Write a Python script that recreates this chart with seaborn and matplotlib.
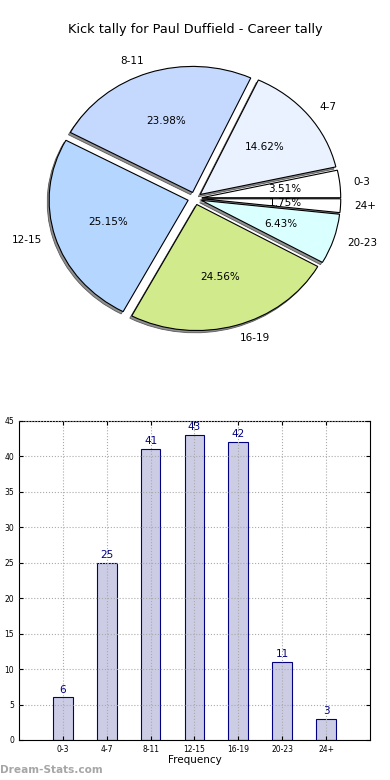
import matplotlib
matplotlib.use("Agg")
import matplotlib.pyplot as plt
import seaborn as sns
import pandas as pd

# data
categories = ["0-3", "4-7", "8-11", "12-15", "16-19", "20-23", "24+"]
counts = [6, 25, 41, 43, 42, 11, 3]
pie_colors = ["#ffffff", "#eaf1ff", "#c5d9ff", "#b5d6ff", "#d0ea8c", "#d9ffff", "#ffffff"]
title = "Kick tally for Paul Duffield - Career tally"

df = pd.DataFrame({"range": categories, "count": counts})

plt.rcParams["font.family"] = ["DejaVu Sans"]
fig = plt.figure(figsize=(3.9, 7.8), dpi=100)

# pie
ax1 = fig.add_axes([0.054, 0.5436, 0.891, 0.404])
ax1.pie(df["count"], labels=df["range"], colors=pie_colors, explode=[0.05] * len(counts),
        autopct="%1.2f%%",
        shadow={"ox": -0.01, "oy": -0.013, "facecolor": "#8a8a8a", "edgecolor": "#555555",
                "linewidth": 0.6, "alpha": 0.95},
        startangle=0,
        wedgeprops={"edgecolor": "black", "linewidth": 0.8},
        textprops={"fontsize": 7.5})
ax1.set_aspect("auto")
ax1.set_xlim(-1.25, 1.25)
ax1.set_ylim(-1.25, 1.25)
fig.text(0.5, 1 - 30 / 780, title, ha="center", va="center", fontsize=9.3)

# bars
ax2 = fig.add_axes([0.0487, 0.0513, 0.9, 0.409])
sns.barplot(data=df, x="range", y="count", ax=ax2, width=0.45,
            color=(0, 0, 0.5, 0.2), edgecolor="navy", linewidth=0.8, saturation=1)
for p, v in zip(ax2.patches, counts):
    ax2.text(p.get_x() + p.get_width() / 2, v + 0.4, str(v), ha="center", va="bottom",
             color="navy", fontsize=7.5)
ax2.set_xlim(-1, 7)
ax2.set_ylim(0, 45)
ax2.set_yticks(range(0, 46, 5))
ax2.grid(True, linestyle=":", color="#aaaaaa", linewidth=0.8)
ax2.set_axisbelow(False)
ax2.tick_params(direction="in", top=True, right=True, labelsize=5.5, length=3)
ax2.set_xlabel("Frequency", fontsize=7.5, labelpad=1)
ax2.set_ylabel("")
for s in ax2.spines.values():
    s.set_linewidth(0.8)

fig.text(0.0, 1 - 770 / 780, "Dream-Stats.com", color="#a6a6a6", fontsize=7.6,
         fontweight="bold", ha="left", va="center")

plt.savefig("out.png", dpi=100)
